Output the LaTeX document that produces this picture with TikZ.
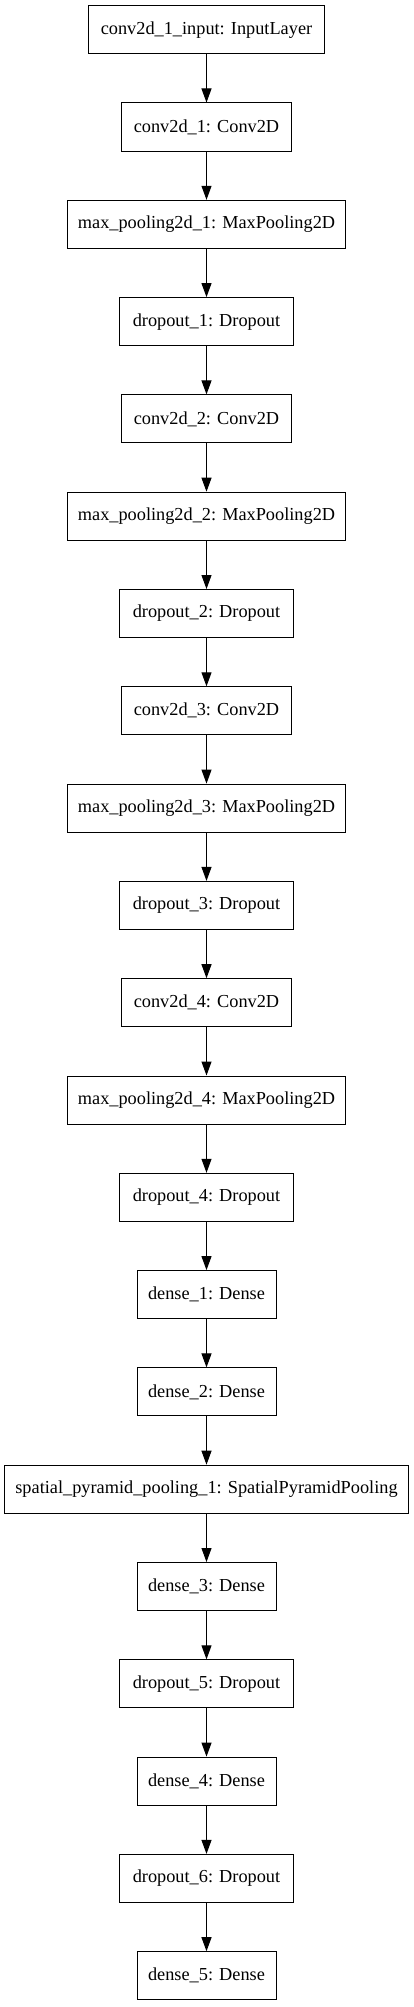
\documentclass[tikz,border=0pt]{standalone}
\usepackage{fontspec}
\setmainfont{Liberation Serif}
\usetikzlibrary{arrows.meta}
\tikzset{
  layer/.style={draw=black, line width=1pt, minimum height=48pt, inner sep=0pt,
    font=\fontsize{18.3}{22}\selectfont, text=black},
  wI/.style={minimum width=235.3pt},
  wC/.style={minimum width=169.6pt},
  wM/.style={minimum width=278.7pt},
  wD/.style={minimum width=173.6pt},
  wE/.style={minimum width=139pt},
  wS/.style={minimum width=403.6pt},
  flow/.style={draw=black, line width=1pt, -{Triangle[length=14pt,width=10pt]}}
}
\begin{document}
\begin{tikzpicture}[x=1pt,y=-1pt]
\useasboundingbox (0,0) rectangle (413,2007);
\def\cx{206.5}
\def\py{97.3}
\node[layer,wI] (n0)  at (\cx,29.7+0*\py) {conv2d\_1\_input: InputLayer};
\node[layer,wC] (n1)  at (\cx,29.7+1*\py) {conv2d\_1: Conv2D};
\node[layer,wM] (n2)  at (\cx,29.7+2*\py) {max\_pooling2d\_1: MaxPooling2D};
\node[layer,wD] (n3)  at (\cx,29.7+3*\py) {dropout\_1: Dropout};
\node[layer,wC] (n4)  at (\cx,29.7+4*\py) {conv2d\_2: Conv2D};
\node[layer,wM] (n5)  at (\cx,29.7+5*\py) {max\_pooling2d\_2: MaxPooling2D};
\node[layer,wD] (n6)  at (\cx,29.7+6*\py) {dropout\_2: Dropout};
\node[layer,wC] (n7)  at (\cx,29.7+7*\py) {conv2d\_3: Conv2D};
\node[layer,wM] (n8)  at (\cx,29.7+8*\py) {max\_pooling2d\_3: MaxPooling2D};
\node[layer,wD] (n9)  at (\cx,29.7+9*\py) {dropout\_3: Dropout};
\node[layer,wC] (n10) at (\cx,29.7+10*\py) {conv2d\_4: Conv2D};
\node[layer,wM] (n11) at (\cx,29.7+11*\py) {max\_pooling2d\_4: MaxPooling2D};
\node[layer,wD] (n12) at (\cx,29.7+12*\py) {dropout\_4: Dropout};
\node[layer,wE] (n13) at (\cx,29.7+13*\py) {dense\_1: Dense};
\node[layer,wE] (n14) at (\cx,29.7+14*\py) {dense\_2: Dense};
\node[layer,wS] (n15) at (\cx,29.7+15*\py) {spatial\_pyramid\_pooling\_1: SpatialPyramidPooling};
\node[layer,wE] (n16) at (\cx,29.7+16*\py) {dense\_3: Dense};
\node[layer,wD] (n17) at (\cx,29.7+17*\py) {dropout\_5: Dropout};
\node[layer,wE] (n18) at (\cx,29.7+18*\py) {dense\_4: Dense};
\node[layer,wD] (n19) at (\cx,29.7+19*\py) {dropout\_6: Dropout};
\node[layer,wE] (n20) at (\cx,29.7+20*\py) {dense\_5: Dense};
\foreach \a/\b in {n0/n1,n1/n2,n2/n3,n3/n4,n4/n5,n5/n6,n6/n7,n7/n8,n8/n9,n9/n10,n10/n11,n11/n12,n12/n13,n13/n14,n14/n15,n15/n16,n16/n17,n17/n18,n18/n19,n19/n20}
  \draw[flow] (\a.south) -- (\b.north);
\end{tikzpicture}
\end{document}
